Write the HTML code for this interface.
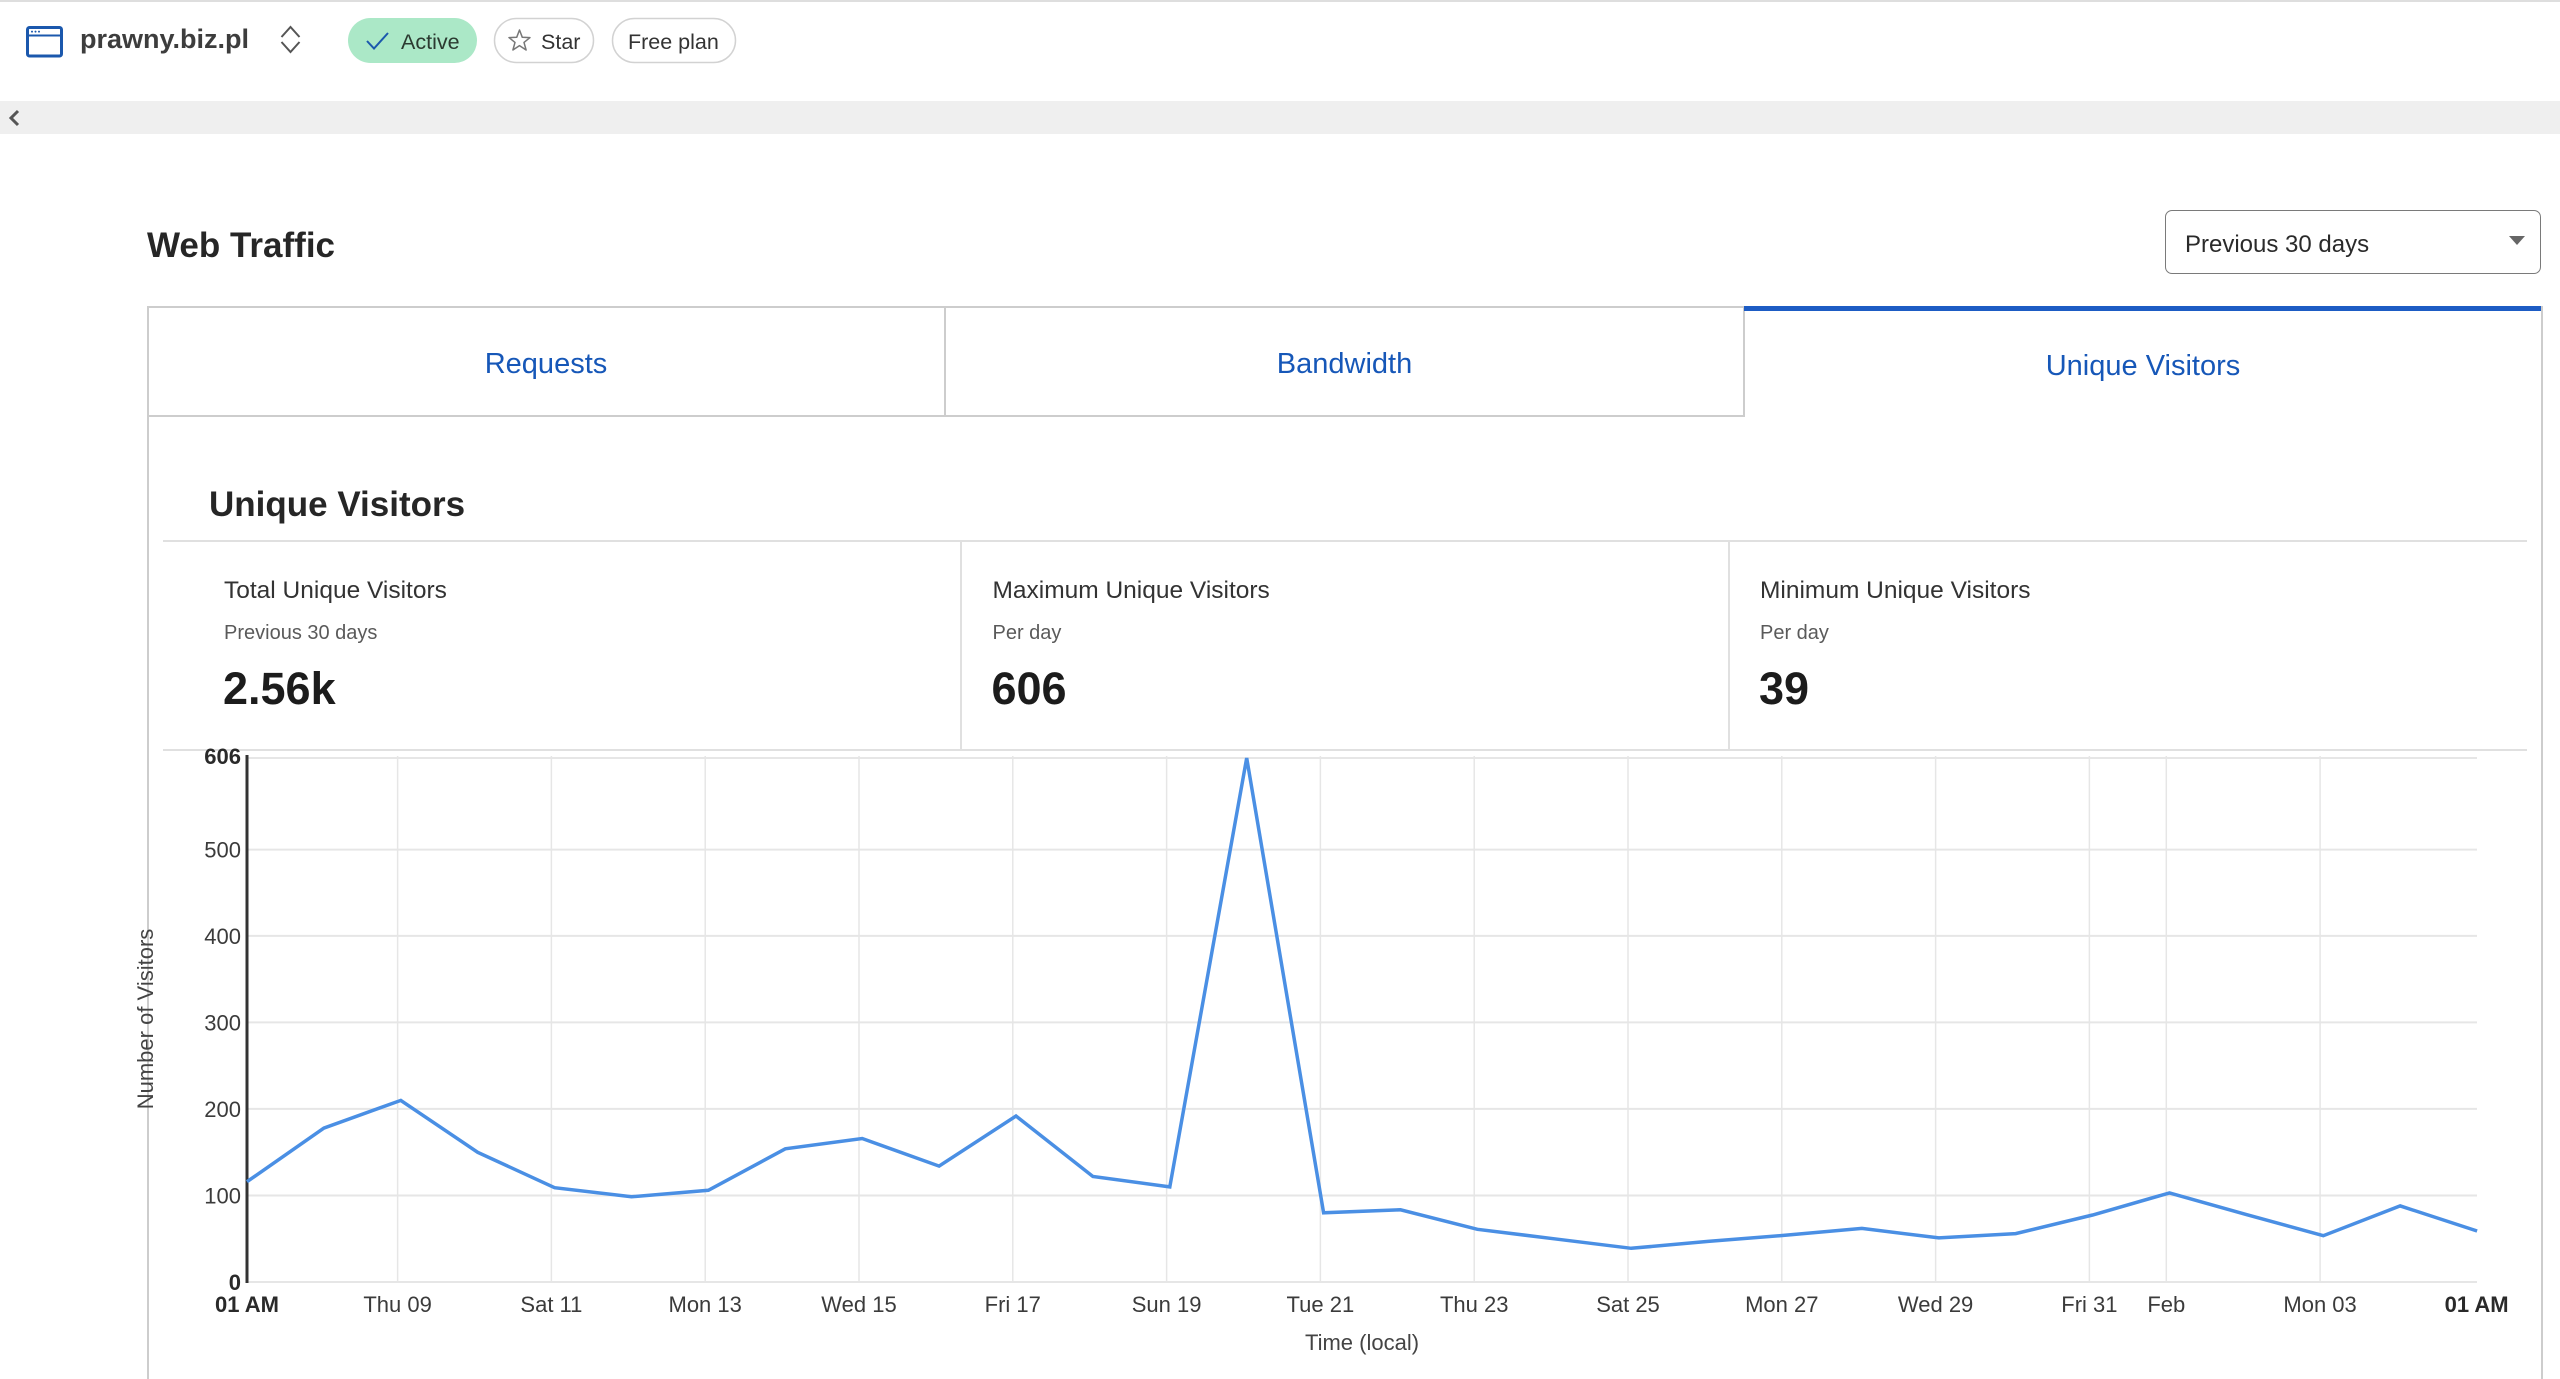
<!DOCTYPE html>
<html>
<head>
<meta charset="utf-8">
<style>
  html,body{margin:0;padding:0;}
  body{width:2560px;height:1379px;overflow:hidden;background:#fff;position:relative;font-family:"Liberation Sans",sans-serif;}
  .a{position:absolute;white-space:nowrap;}
  .t{line-height:1;}
</style>
</head>
<body>
<!-- top thin line -->
<div class="a" style="left:0;top:0;width:2560px;height:2px;background:#dedede"></div>

<!-- header -->
<svg class="a" style="left:0;top:0" width="760" height="100" viewBox="0 0 760 100">
  <!-- window icon -->
  <rect x="27.5" y="27.5" width="34" height="28.5" rx="2" fill="none" stroke="#1b58ad" stroke-width="3"/>
  <line x1="27.5" y1="35.5" x2="61.5" y2="35.5" stroke="#1b58ad" stroke-width="2"/>
  <circle cx="32" cy="31.6" r="1" fill="#1b58ad"/>
  <circle cx="35.5" cy="31.6" r="1" fill="#1b58ad"/>
  <circle cx="39" cy="31.6" r="1" fill="#1b58ad"/>
  <!-- up/down chevron -->
  <polyline points="281.5,37 290.5,27 299.5,37" fill="none" stroke="#555" stroke-width="2"/>
  <polyline points="281.5,42 290.5,52 299.5,42" fill="none" stroke="#555" stroke-width="2"/>
  <!-- active pill -->
  <rect x="348" y="18" width="129" height="45" rx="22.5" fill="#abe8c7"/>
  <polyline points="367,41 374,48.5 388,33" fill="none" stroke="#1b58ad" stroke-width="2"/>
  <!-- star pill -->
  <rect x="494.5" y="18.5" width="99" height="44" rx="22" fill="#fff" stroke="#d2d2d2" stroke-width="1.5"/>
  <polygon points="519.5,30 522.3,37.3 530,37.6 524,42.4 526.1,50 519.5,45.6 512.9,50 515,42.4 509,37.6 516.7,37.3" fill="none" stroke="#777" stroke-width="1.5" stroke-linejoin="round"/>
  <!-- free plan pill -->
  <rect x="612.5" y="18.5" width="123" height="44" rx="22" fill="#fff" stroke="#d2d2d2" stroke-width="1.5"/>
</svg>
<div class="a t" style="left:80px;top:26px;font-size:27px;font-weight:bold;color:#3d3d3d">prawny.biz.pl</div>
<div class="a t" style="left:401px;top:32px;font-size:21.5px;color:#2b3a30">Active</div>
<div class="a t" style="left:541px;top:32px;font-size:21.5px;color:#333">Star</div>
<div class="a t" style="left:628px;top:32px;font-size:21.5px;color:#333">Free plan</div>

<!-- gray bar -->
<div class="a" style="left:0;top:101px;width:2560px;height:33px;background:#efefef"></div>
<svg class="a" style="left:0;top:101px" width="30" height="33"><polyline points="18,10 11,17 18,24" fill="none" stroke="#555" stroke-width="3"/></svg>

<!-- Web Traffic title -->
<div class="a t" style="left:147px;top:228px;font-size:35px;font-weight:bold;color:#262626">Web Traffic</div>

<!-- dropdown -->
<div class="a" style="left:2165px;top:210px;width:374px;height:62px;border:1.5px solid #7a7a7a;border-radius:7px;background:#fff"></div>
<div class="a t" style="left:2185px;top:233px;font-size:24px;color:#2a2a2a">Previous 30 days</div>
<svg class="a" style="left:2505px;top:234px" width="24" height="14"><polygon points="4,2 20,2 12,11" fill="#666"/></svg>

<!-- tabs & panel borders -->
<div class="a" style="left:147px;top:306px;width:1598px;height:2px;background:#cdcdcd"></div>
<div class="a" style="left:147px;top:306px;width:2px;height:1073px;background:#cdcdcd"></div>
<div class="a" style="left:944px;top:306px;width:2px;height:111px;background:#cdcdcd"></div>
<div class="a" style="left:1743px;top:306px;width:2px;height:111px;background:#cdcdcd"></div>
<div class="a" style="left:147px;top:415px;width:1598px;height:2px;background:#cdcdcd"></div>
<div class="a" style="left:1744px;top:306px;width:798px;height:5px;background:#1d5cc4"></div>
<div class="a" style="left:2541px;top:306px;width:2px;height:1073px;background:#cdcdcd"></div>

<div class="a t" style="left:147px;top:349.5px;width:798px;text-align:center;font-size:29px;color:#1657b8">Requests</div>
<div class="a t" style="left:945px;top:349.5px;width:799px;text-align:center;font-size:29px;color:#1657b8">Bandwidth</div>
<div class="a t" style="left:1744px;top:351.5px;width:798px;text-align:center;font-size:29px;color:#1657b8">Unique Visitors</div>

<!-- section heading -->
<div class="a t" style="left:209px;top:487px;font-size:35px;font-weight:bold;color:#262626">Unique Visitors</div>

<!-- stats box lines -->
<div class="a" style="left:163px;top:540px;width:2364px;height:2px;background:#e0e0e0"></div>
<div class="a" style="left:163px;top:749px;width:2364px;height:2px;background:#e0e0e0"></div>
<div class="a" style="left:960px;top:541px;width:2px;height:209px;background:#e0e0e0"></div>
<div class="a" style="left:1727.5px;top:541px;width:2px;height:209px;background:#e0e0e0"></div>

<div class="a t" style="left:224px;top:579px;font-size:24.5px;color:#333">Total Unique Visitors</div>
<div class="a t" style="left:224px;top:623px;font-size:20px;color:#5a5a5a">Previous 30 days</div>
<div class="a t" style="left:223px;top:666px;font-size:45px;font-weight:bold;color:#1c1c1c">2.56k</div>

<div class="a t" style="left:992.5px;top:579px;font-size:24.5px;color:#333">Maximum Unique Visitors</div>
<div class="a t" style="left:992.5px;top:623px;font-size:20px;color:#5a5a5a">Per day</div>
<div class="a t" style="left:991.5px;top:666px;font-size:45px;font-weight:bold;color:#1c1c1c">606</div>

<div class="a t" style="left:1760px;top:579px;font-size:24.5px;color:#333">Minimum Unique Visitors</div>
<div class="a t" style="left:1760px;top:623px;font-size:20px;color:#5a5a5a">Per day</div>
<div class="a t" style="left:1759px;top:666px;font-size:45px;font-weight:bold;color:#1c1c1c">39</div>

<!-- chart -->
<svg class="a" style="left:0;top:0" width="2560" height="1379" viewBox="0 0 2560 1379" font-family="Liberation Sans, sans-serif">
  <g stroke="#e6e6e6" stroke-width="2">
    <line x1="247" y1="758" x2="2477" y2="758"/>
    <line x1="247" y1="849.6" x2="2477" y2="849.6"/>
    <line x1="247" y1="935.9" x2="2477" y2="935.9"/>
    <line x1="247" y1="1022.4" x2="2477" y2="1022.4"/>
    <line x1="247" y1="1108.9" x2="2477" y2="1108.9"/>
    <line x1="247" y1="1195.5" x2="2477" y2="1195.5"/>
    <line x1="247" y1="1282" x2="2477" y2="1282"/>
  </g>
  <g stroke="#e6e6e6" stroke-width="1.5">
    <line x1="397.6" y1="756" x2="397.6" y2="1282"/>
    <line x1="551.4" y1="756" x2="551.4" y2="1282"/>
    <line x1="705.2" y1="756" x2="705.2" y2="1282"/>
    <line x1="859.0" y1="756" x2="859.0" y2="1282"/>
    <line x1="1012.8" y1="756" x2="1012.8" y2="1282"/>
    <line x1="1166.6" y1="756" x2="1166.6" y2="1282"/>
    <line x1="1320.4" y1="756" x2="1320.4" y2="1282"/>
    <line x1="1474.2" y1="756" x2="1474.2" y2="1282"/>
    <line x1="1628.0" y1="756" x2="1628.0" y2="1282"/>
    <line x1="1781.8" y1="756" x2="1781.8" y2="1282"/>
    <line x1="1935.6" y1="756" x2="1935.6" y2="1282"/>
    <line x1="2089.4" y1="756" x2="2089.4" y2="1282"/>
    <line x1="2166.3" y1="756" x2="2166.3" y2="1282"/>
    <line x1="2320.1" y1="756" x2="2320.1" y2="1282"/>
  </g>
  <line x1="247" y1="755" x2="247" y2="1283" stroke="#333" stroke-width="3"/>

  <polyline fill="none" stroke="#4a8fe4" stroke-width="3.5" stroke-linejoin="miter" points="
    247,1181.7 323.9,1128.1 400.8,1100.4 477.7,1152.3 554.6,1187.7 631.5,1196.8 708.4,1190.3 785.3,1148.8
    862.2,1138.5 939.1,1166.1 1016,1116.0 1092.9,1176.5 1169.8,1186.9 1246.7,758 1323.6,1212.8 1400.5,1209.8
    1477.4,1229.3 1554.3,1238.8 1631.2,1248.3 1708.1,1241.4 1785,1235.3 1861.9,1228.4 1938.8,1237.9
    2015.7,1233.6 2092.6,1215.0 2169.5,1192.9 2246.4,1214.6 2323.3,1235.7 2400.2,1205.9 2477.1,1231.0"/>

  <!-- y tick labels -->
  <g font-size="22" fill="#3b3b3b" text-anchor="end">
    <text x="241" y="764" font-weight="bold" fill="#2a2a2a">606</text>
    <text x="241" y="857.6">500</text>
    <text x="241" y="943.9">400</text>
    <text x="241" y="1030.4">300</text>
    <text x="241" y="1116.9">200</text>
    <text x="241" y="1203.5">100</text>
    <text x="241" y="1290" font-weight="bold" fill="#2a2a2a">0</text>
  </g>
  <!-- x tick labels -->
  <g font-size="22" fill="#3b3b3b" text-anchor="middle">
    <text x="247" y="1312" font-weight="bold" fill="#2a2a2a">01 AM</text>
    <text x="397.6" y="1312">Thu 09</text>
    <text x="551.4" y="1312">Sat 11</text>
    <text x="705.2" y="1312">Mon 13</text>
    <text x="859.0" y="1312">Wed 15</text>
    <text x="1012.8" y="1312">Fri 17</text>
    <text x="1166.6" y="1312">Sun 19</text>
    <text x="1320.4" y="1312">Tue 21</text>
    <text x="1474.2" y="1312">Thu 23</text>
    <text x="1628.0" y="1312">Sat 25</text>
    <text x="1781.8" y="1312">Mon 27</text>
    <text x="1935.6" y="1312">Wed 29</text>
    <text x="2089.4" y="1312">Fri 31</text>
    <text x="2166.3" y="1312">Feb</text>
    <text x="2320.1" y="1312">Mon 03</text>
    <text x="2476.6" y="1312" font-weight="bold" fill="#2a2a2a">01 AM</text>
  </g>
  <text x="1362" y="1350" font-size="22" fill="#444" text-anchor="middle">Time (local)</text>
  <text transform="translate(153,1019) rotate(-90)" font-size="22" fill="#444" text-anchor="middle">Number of Visitors</text>
</svg>
</body>
</html>
